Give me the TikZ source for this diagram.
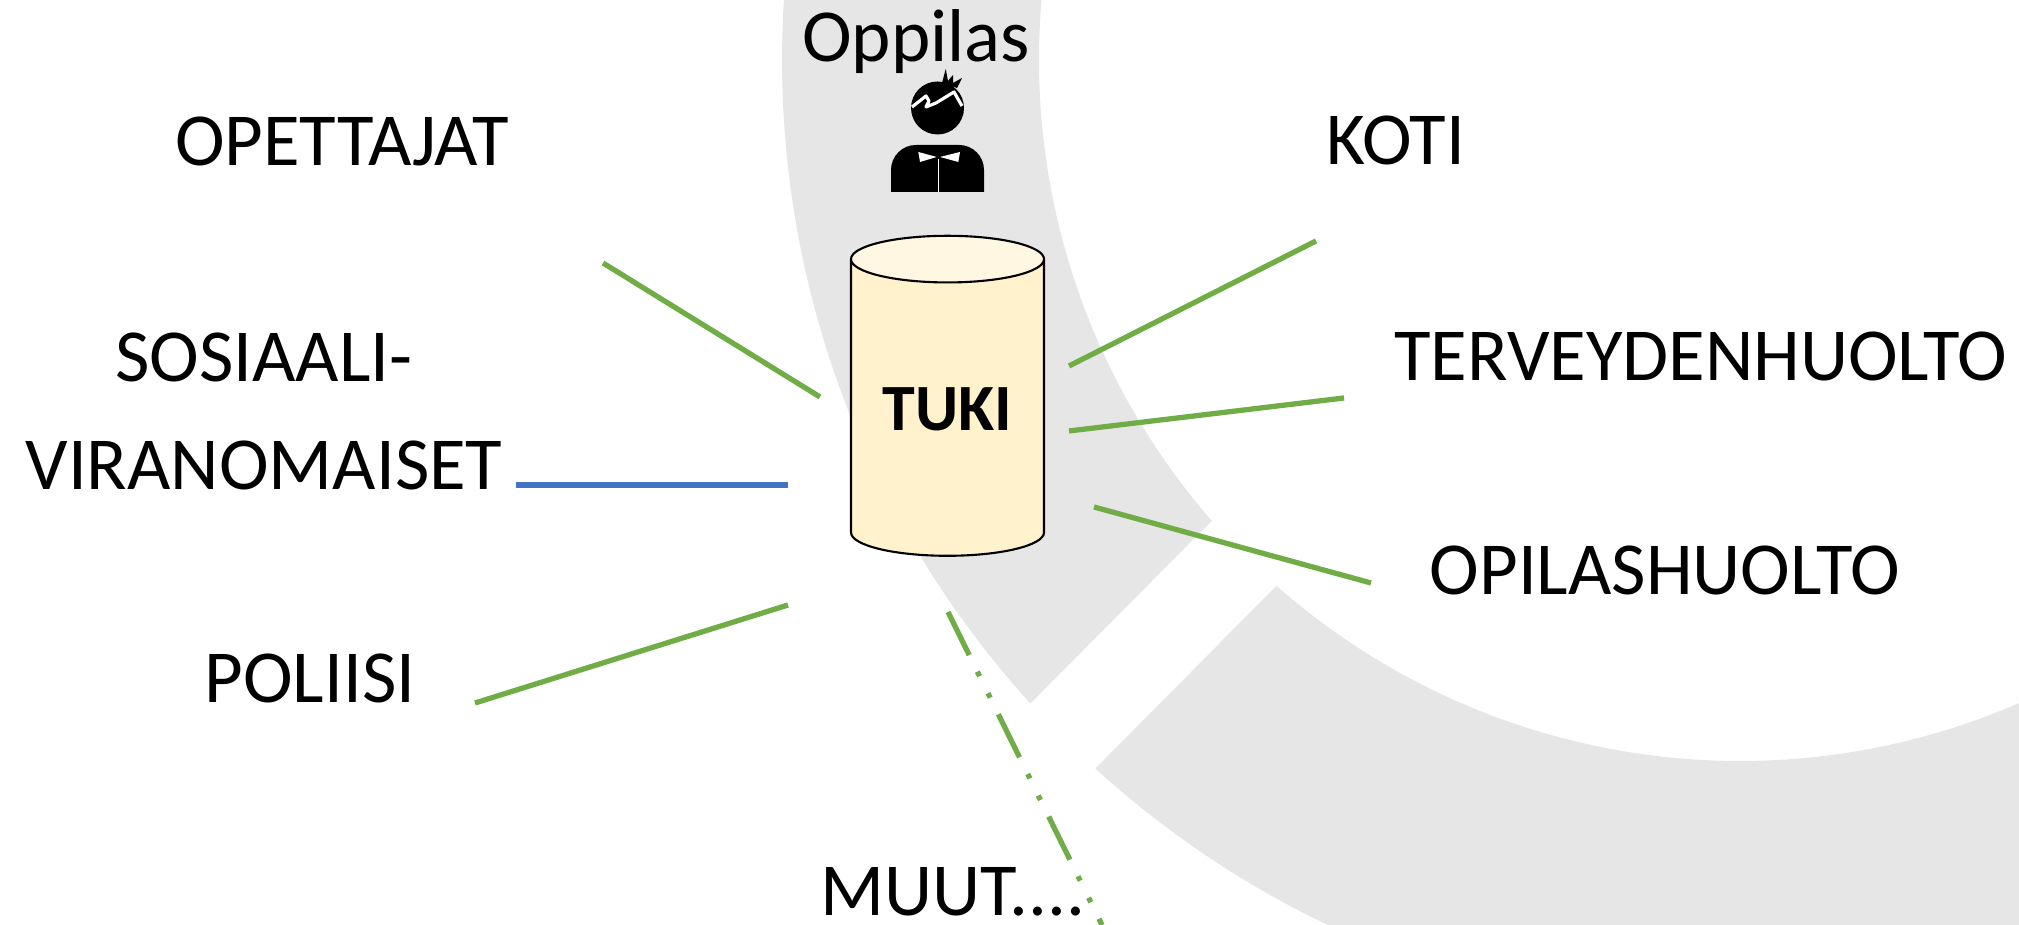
\documentclass[tikz,border=0pt]{standalone}
\usepackage{fontspec}
\setmainfont{Carlito}
\usetikzlibrary{shapes.geometric}
\definecolor{ringgray}{RGB}{231,230,230}
\definecolor{linkgreen}{RGB}{112,173,71}
\definecolor{linkblue}{RGB}{68,114,196}
\definecolor{canbody}{RGB}{255,242,204}
\definecolor{cantop}{RGB}{255,247,226}
\tikzset{actor/.style={ % Sets the properties for each label
            font=\fontsize{21.3}{31}\selectfont,
            anchor=base,
            inner sep=0pt},
        link/.style={ % Sets the properties for each connecting line
            draw=linkgreen,
            line width=1.5pt},
        can/.style={ % The central support cylinder
            cylinder, shape border rotate=90, aspect=0.36,
            draw, line width=0.6pt,
            minimum width=1.93cm, minimum height=3.2cm,
            cylinder uses custom fill,
            cylinder body fill=canbody,
            cylinder end fill=cantop}
        }

\begin{document}
\begin{tikzpicture}
    \useasboundingbox (0,0) rectangle (20.19,9.25);

    % background ring with a gap
    \begin{scope}
        \clip (0,0) rectangle (20.19,9.25);
        \begin{scope}[shift={(17.40,8.65)}]
            \fill[ringgray] (222.2:9.58) arc[start angle=222.2, end angle=90, radius=9.58]
                -- (90:7.01) arc[start angle=90, end angle=221.1, radius=7.01] -- cycle;
            \fill[ringgray] (227.7:9.58) arc[start angle=227.7, end angle=380, radius=9.58]
                -- (380:7.01) arc[start angle=380, end angle=228.6, radius=7.01] -- cycle;
        \end{scope}
    \end{scope}

    % pupil icon
    \fill (8.91,7.33) [rounded corners=0.25cm] -- (8.91,7.80) -- (9.84,7.80) [sharp corners] -- (9.84,7.33) -- cycle;
    \fill[white] (9.183,7.73) -- (9.367,7.68) -- (9.20,7.63) -- cycle;
    \fill[white] (9.60,7.73) -- (9.40,7.68) -- (9.583,7.63) -- cycle;
    \draw[white, line width=0.45pt] (9.383,7.66) -- (9.383,7.33);
    \fill (9.375,8.17) circle (0.265);
    \fill (9.42,8.42) -- (9.457,8.56) -- (9.48,8.44) -- (9.53,8.50) -- (9.53,8.42) -- (9.62,8.47) -- (9.57,8.37) -- cycle;
    \draw[white, line width=0.9pt, line join=round] (9.12,8.18) -- (9.26,8.29) -- (9.29,8.24) -- (9.26,8.18)
        -- (9.36,8.22) -- (9.54,8.33) -- (9.62,8.19);

    \node[actor, font=\fontsize{21.3}{26}\selectfont] (oppilas) at (9.16,8.63) {Oppilas};
    \node[can, font=\bfseries\fontsize{18.8}{22}\selectfont, text height=0.45cm, text depth=0pt, inner sep=0pt]
        (tuki) at (9.475,5.17) {TUKI};

    \node[actor] (opettajat) at (3.42,7.59)  {OPETTAJAT};
    \node[actor, anchor=center, align=center] (sosiaali) at (2.64,5.135) {SOSIAALI-\\VIRANOMAISET};
    \node[actor] (poliisi)   at (3.10,2.22)  {POLIISI};
    \node[actor] (koti)      at (13.96,7.60) {KOTI};
    \node[actor] (terveys)   at (17.01,5.44) {TERVEYDENHUOLTO};
    \node[actor] (opilas)    at (16.65,3.30) {OPILASHUOLTO};
    \node[actor] (muut)      at (9.53,0.09)  {MUUT....};

    \coordinate (o1) at (6.03,6.62);  \coordinate (o2) at (8.20,5.28);
    \coordinate (s1) at (5.16,4.40);  \coordinate (s2) at (7.88,4.40);
    \coordinate (p1) at (4.75,2.22);  \coordinate (p2) at (7.88,3.20);
    \coordinate (k1) at (10.69,5.59); \coordinate (k2) at (13.16,6.84);
    \coordinate (t1) at (10.69,4.94); \coordinate (t2) at (13.44,5.27);
    \coordinate (h1) at (10.94,4.18); \coordinate (h2) at (13.71,3.42);
    \coordinate (m1) at (9.48,3.13);  \coordinate (m2) at (11.02,0);

    \draw[link] (o1) -- (o2);
    \draw[link, draw=linkblue] (s1) -- (s2);
    \draw[link] (p1) -- (p2);
    \draw[link] (k1) -- (k2);
    \draw[link] (t1) -- (t2);
    \draw[link] (h1) -- (h2);
    \draw[link, dash pattern=on 0.48cm off 0.185cm on 0.05cm off 0.19cm on 0.05cm off 0.185cm] (m1) -- (m2);
\end{tikzpicture}
\end{document}
